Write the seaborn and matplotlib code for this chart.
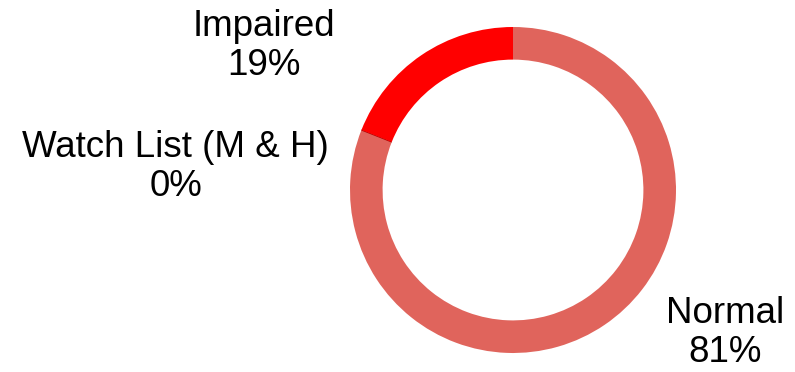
import matplotlib
matplotlib.use("Agg")
import matplotlib.pyplot as plt
import seaborn as sns

categories = ["Normal", "Watch List (M & H)", "Impaired"]
values = [81, 0, 19]
pct_labels = ["81%", "0%", "19%"]
colors = ["#E0645C", "#A50000", "#FF0000"]

sns.set_theme(style="white")
plt.rcParams['font.family'] = ['Liberation Sans', 'DejaVu Sans']

fig = plt.figure(figsize=(7.95, 3.72), dpi=100)
ax = fig.add_axes([350/795, 19/372, 326/795, 326/372])
wedges, _ = ax.pie(values, colors=colors, startangle=90, counterclock=False,
                   radius=1.0, wedgeprops=dict(width=0.2, linewidth=0))
wedges[1].set_edgecolor("#A50000")
wedges[1].set_linewidth(0.8)
ax.set_xlim(-1, 1)
ax.set_ylim(-1, 1)
ax.set_aspect('equal')
ax.axis('off')

label_pos = {"Normal": (1.30, -0.88), "Watch List (M & H)": (-2.07, 0.14), "Impaired": (-1.53, 0.885)}
for cat, pct in zip(categories, pct_labels):
    x, y = label_pos[cat]
    ax.text(x, y, f"{cat}\n{pct}", ha="center", va="center", fontsize=26.5,
            color="black", linespacing=1.15, clip_on=False)

fig.savefig("out.png", dpi=100)
